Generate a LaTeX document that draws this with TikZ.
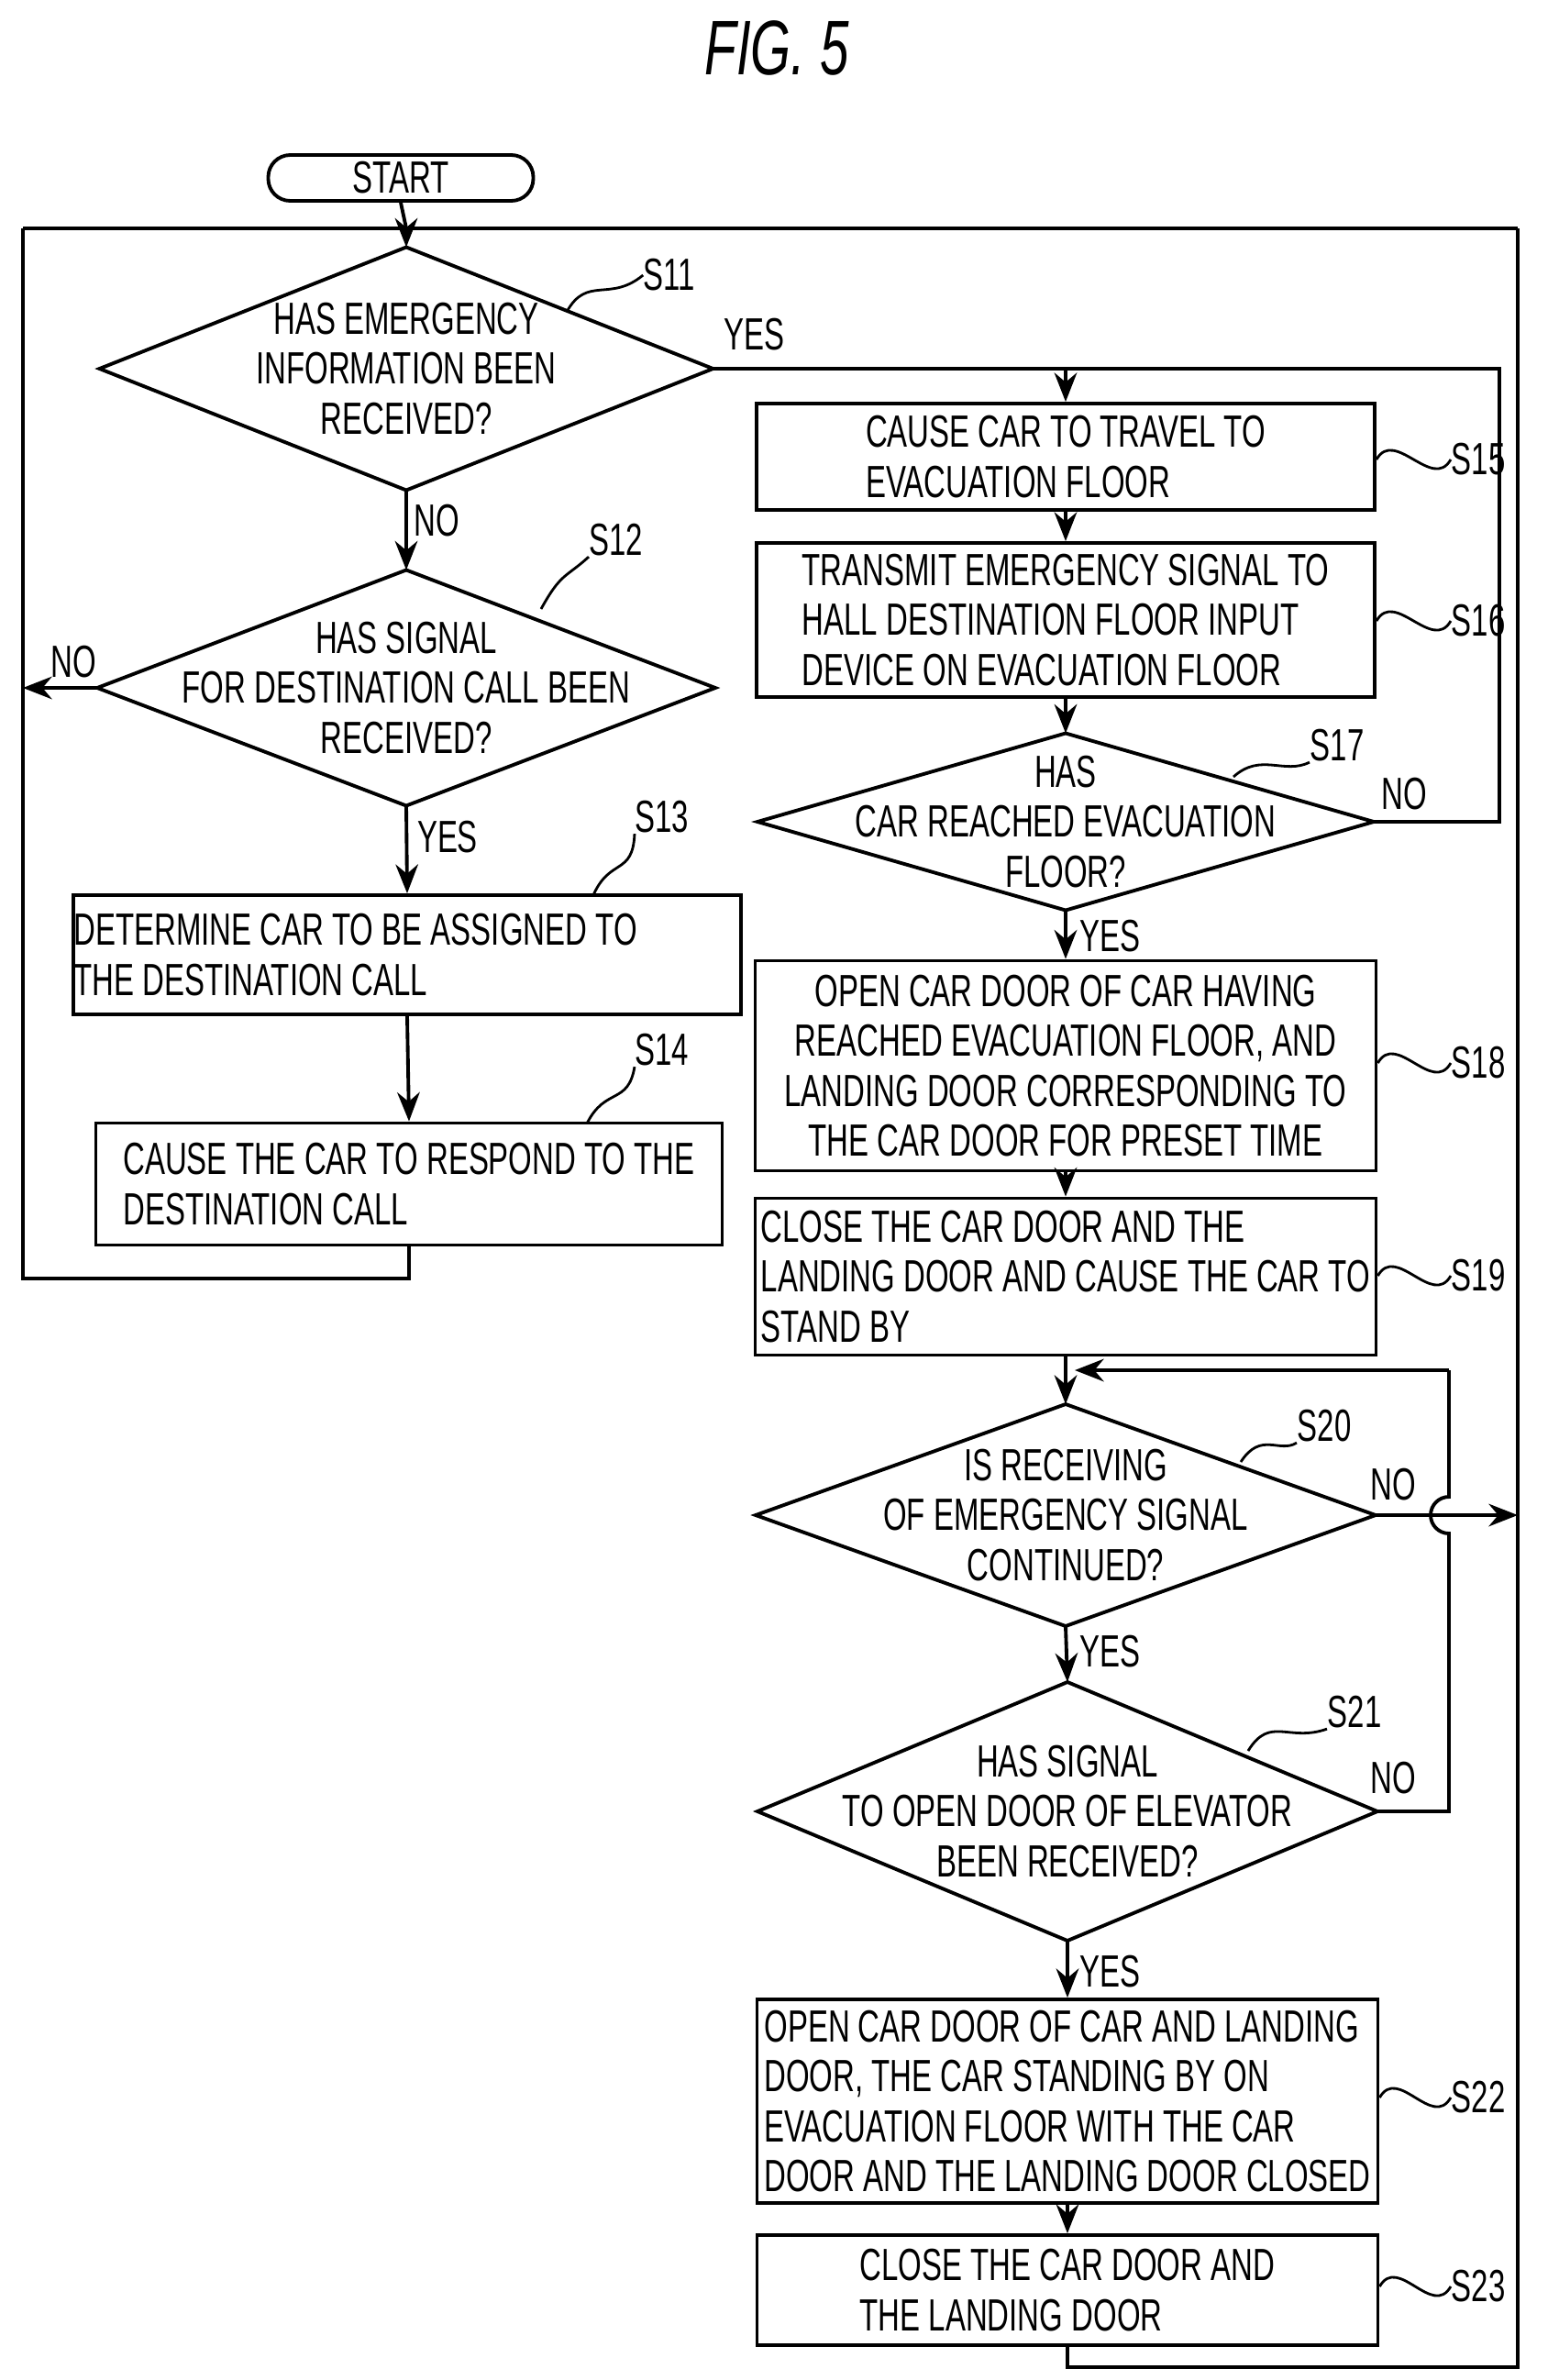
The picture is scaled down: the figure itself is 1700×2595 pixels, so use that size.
\documentclass[tikz,border=0pt]{standalone}
\usepackage{fontspec}
\setmainfont{Liberation Sans}[FakeStretch=0.67]
\usetikzlibrary{arrows.meta}
\newcommand\dia[6]{%
  \draw[ln] (#2-#4/2,#3) coordinate (#1-w) -- (#2,#3-#5/2) coordinate (#1-n) -- (#2+#4/2,#3) coordinate (#1-e) -- (#2,#3+#5/2) coordinate (#1-s) -- cycle;
  \node[txt,align=center] (#1) at (#2,#3) {#6};}
\begin{document}
\begin{tikzpicture}[x=0.1mm,y=-0.1mm,
  ln/.style={line width=1.1pt},
  ar/.style={ln,-{Stealth[length=9pt,width=7pt]}},
  txt/.style={font=\fontsize{14}{15.5}\selectfont,inner sep=0pt},
  box/.style={ln,draw,rectangle,txt,inner sep=0pt},
  lab/.style={txt,anchor=center},
  tick/.style={line width=0.8pt}]
\useasboundingbox (0,0) rectangle (1700,2595);
\node[font=\fontsize{24}{26}\selectfont\itshape] (title) at (847,52) {FIG. 5};
% start
\node[box,rounded corners=2.4mm,minimum width=28.9mm,minimum height=5mm] (start) at (437,194) {START};
\coordinate (topL) at (25,249); \coordinate (topR) at (1655,249); \coordinate (topM) at (443,249);
\dia{s11}{443}{402}{669}{265}{HAS EMERGENCY\\INFORMATION BEEN\\RECEIVED?}
\dia{s12}{443}{750}{674}{257}{HAS SIGNAL\\FOR DESTINATION CALL BEEN\\RECEIVED?}
\node[box,minimum width=68.1mm,minimum height=13mm,align=left] (s13) at (444,1041) {DETERMINE CAR TO BE ASSIGNED TO\\THE DESTINATION CALL\phantom{ TO BE ASSIGNED TO}};
\node[box,minimum width=68.3mm,minimum height=13.3mm,align=left] (s14) at (446,1291) {CAUSE THE CAR TO RESPOND TO THE\\DESTINATION CALL};
% right column
\node[box,minimum width=67.4mm,minimum height=11.6mm,align=left] (s15) at (1162,498) {CAUSE CAR TO TRAVEL TO\\EVACUATION FLOOR};
\node[box,minimum width=67.4mm,minimum height=16.8mm,align=left] (s16) at (1162,676) {TRANSMIT EMERGENCY SIGNAL TO\\HALL DESTINATION FLOOR INPUT\\DEVICE ON EVACUATION FLOOR};
\dia{s17}{1162}{896}{672}{193}{HAS\\CAR REACHED EVACUATION\\FLOOR?}
\node[box,minimum width=67.7mm,minimum height=22.9mm,align=center] (s18) at (1162,1162) {OPEN CAR DOOR OF CAR HAVING\\REACHED EVACUATION FLOOR, AND\\LANDING DOOR CORRESPONDING TO\\THE CAR DOOR FOR PRESET TIME};
\node[box,minimum width=67.7mm,minimum height=17.1mm,align=left] (s19) at (1162,1392) {CLOSE THE CAR DOOR AND THE\\LANDING DOOR AND CAUSE THE CAR TO\\STAND BY};
\dia{s20}{1162}{1652}{676}{242}{IS RECEIVING\\OF EMERGENCY SIGNAL\\CONTINUED?}
\dia{s21}{1164}{1975}{676}{282}{HAS SIGNAL\\TO OPEN DOOR OF ELEVATOR\\BEEN RECEIVED?}
\node[box,minimum width=67.7mm,minimum height=22.2mm,align=left] (s22) at (1164,2291) {OPEN CAR DOOR OF CAR AND LANDING\\DOOR, THE CAR STANDING BY ON\\EVACUATION FLOOR WITH THE CAR\\DOOR AND THE LANDING DOOR CLOSED};
\node[box,minimum width=67.7mm,minimum height=12mm,align=left] (s23) at (1164,2497) {CLOSE THE CAR DOOR AND\\THE LANDING DOOR};
% connectors
\draw[ln] (start.south) -- (topM);
\draw[ar] (topM) -- (s11-n);
\draw[ln] (topL) -- (topR);
\draw[ar] (s11-s) -- (s12-n);
\draw[ar] (s12-s) -- (s13.north);
\draw[ar] (s13.south) -- (s14.north);
\coordinate (l14) at (25,1394);
\draw[ln] (s14.south) |- (l14) -- (topL);
\draw[ar] (s12-w) -- (topL |- s12-w);
\coordinate (yr) at (1635,402); \coordinate (yarr) at (1162,402);
\draw[ln] (s11-e) -- (yr) |- (s17-e);
\draw[ar] (yarr) -- (s15.north);
\draw[ar] (s15.south) -- (s16.north);
\draw[ar] (s16.south) -- (s17-n);
\draw[ar] (s17-s) -- (s18.north);
\draw[ar] (s18.south) -- (s19.north);
\draw[ar] (s19.south) -- (s20-n);
\coordinate (lpx) at (1580,1494);
\draw[ln] (s21-e) -- (1580,1975) -- (1580,1672) arc(90:270:20) -- (lpx);
\draw[ar] (lpx) -- (1172,1494);
\draw[ar] (s20-e) -- (1655,1652);
\draw[ar] (s20-s) -- (s21-n);
\draw[ar] (s21-s) -- (s22.north);
\draw[ar] (s22.south) -- (s23.north);
\coordinate (bot) at (1655,2581);
\draw[ln] (s23.south) -- (1164,2581) -- (bot) -- (topR);
% yes/no labels
\node[lab] at (822,365) {YES};
\node[lab] at (476,568) {NO};
\node[lab] at (80,722) {NO};
\node[lab] at (488,913) {YES};
\node[lab] at (1531,866) {NO};
\node[lab] at (1210,1021) {YES};
\node[lab] at (1519,1619) {NO};
\node[lab] at (1210,1801) {YES};
\node[lab] at (1519,1939) {NO};
\node[lab] at (1210,2150) {YES};
% step labels
\node[lab] (l11) at (730,300) {S11};
\draw[tick] (618,340) .. controls (640,300) and (665,330) .. (l11.west);
\node[lab] (l12) at (672,589) {S12};
\draw[tick] (590,664) .. controls (612,624) and (617,630) .. (l12.south west);
\node[lab] (l13) at (722,891) {S13};
\draw[tick] (647,976) .. controls (665,935) and (690,955) .. (l13.south west);
\node[lab] (l14b) at (722,1145) {S14};
\draw[tick] (640,1225) .. controls (660,1185) and (685,1205) .. (l14b.south west);
\node[lab] (l17) at (1458,813) {S17};
\draw[tick] (1345,847) .. controls (1375,820) and (1400,845) .. (l17.south west);
\node[lab] (l20) at (1444,1555) {S20};
\draw[tick] (1353,1594) .. controls (1375,1560) and (1395,1585) .. (l20.south west);
\node[lab] (l21) at (1477,1867) {S21};
\draw[tick] (1361,1909) .. controls (1385,1870) and (1405,1900) .. (l21.south west);
\foreach \n/\b/\y in {15/s15/501,16/s16/677,18/s18/1159,19/s19/1391,22/s22/2287,23/s23/2493}{
  \node[lab] (lb\n) at (1612,\y) {S\n};
  \draw[tick] (\b.east |- 0,\y) .. controls +(20,-35) and +(-20,35) .. (lb\n.west);
}
\end{tikzpicture}
\end{document}
